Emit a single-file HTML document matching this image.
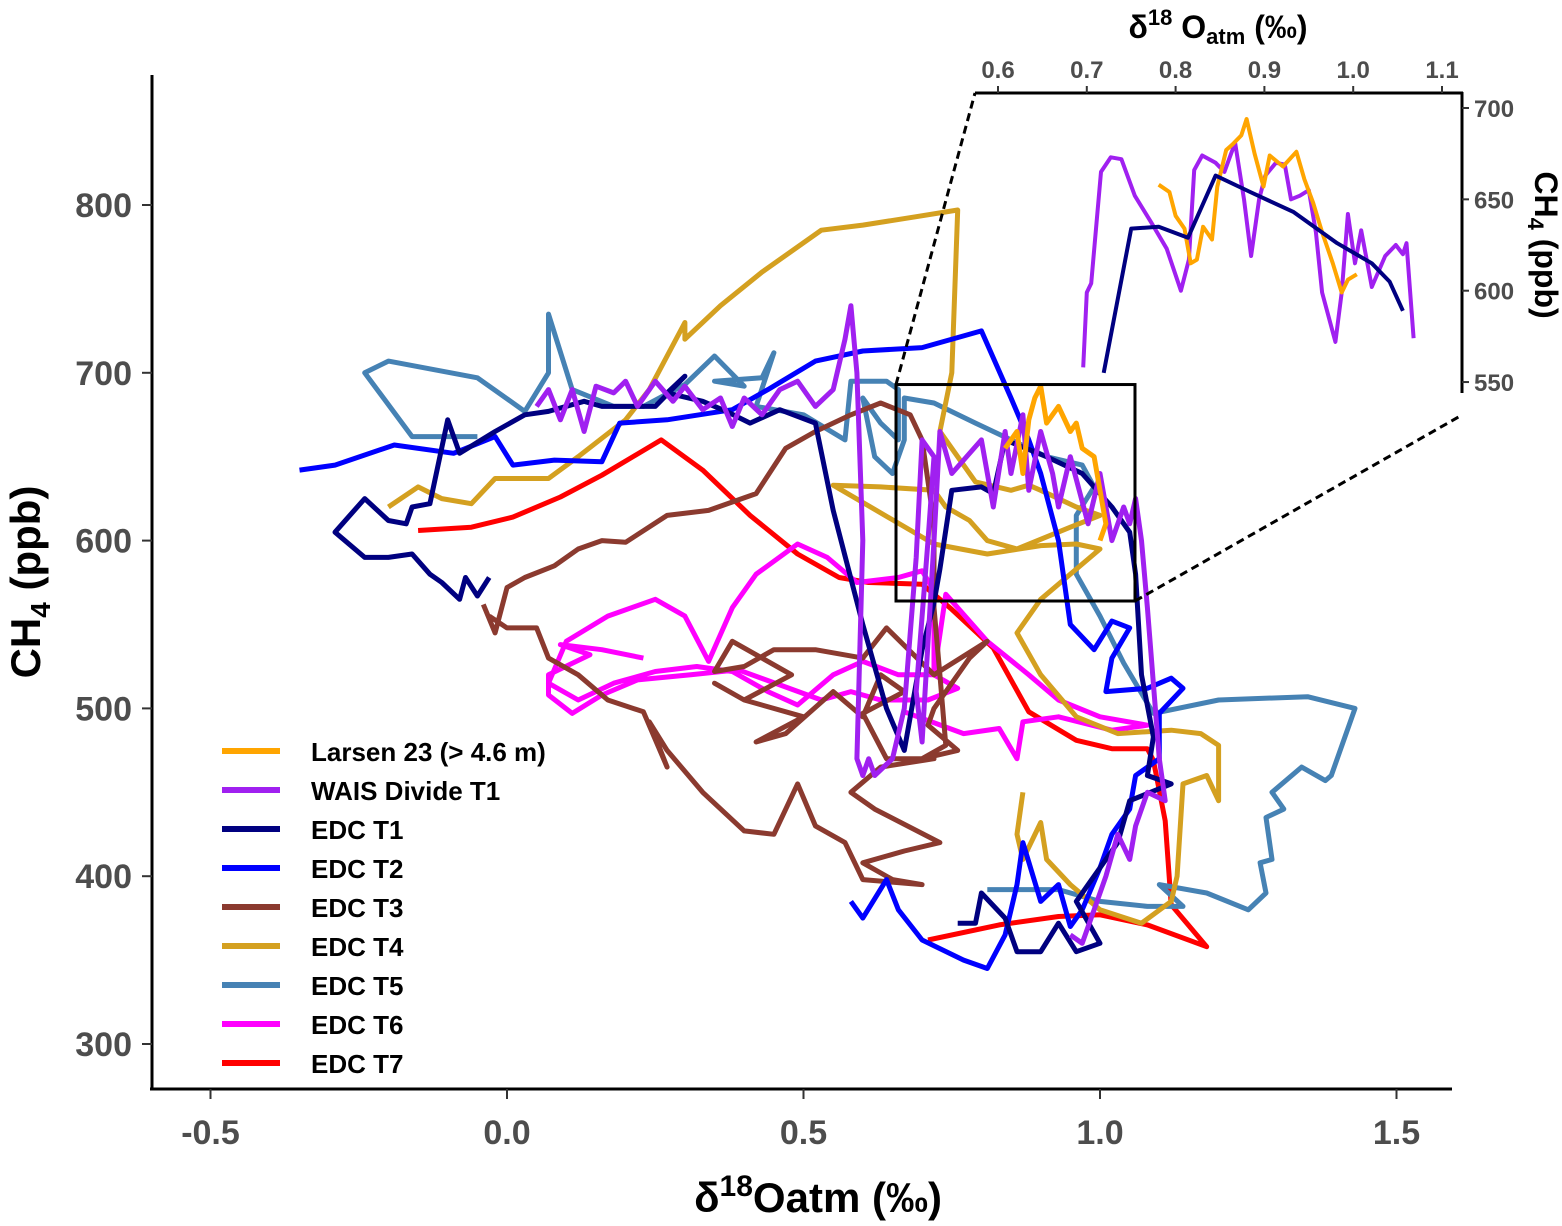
<!DOCTYPE html>
<html><head><meta charset="utf-8">
<style>
html,body{margin:0;padding:0;background:#fff;}
body{width:1562px;height:1221px;overflow:hidden;font-family:"Liberation Sans",Arial,sans-serif;}
svg text{font-family:"Liberation Sans",Arial,sans-serif;font-weight:bold;}
</style></head>
<body>
<svg id="chart" width="1562" height="1221" viewBox="0 0 1562 1221" xmlns="http://www.w3.org/2000/svg">
<g id="main-series"></g>
<g id="inset-series"></g>
<g id="axes"></g>
</svg>
<script>
// ---- Main plot data ----
const xTicks = [-0.5, 0.0, 0.5, 1.0, 1.5];
const xTickLabels = ["-0.5", "0.0", "0.5", "1.0", "1.5"];
const yTicks = [300, 400, 500, 600, 700, 800];
const yTickLabels = ["300", "400", "500", "600", "700", "800"];
const seriesNames = ["Larsen 23 (> 4.6 m)", "WAIS Divide T1", "EDC T1", "EDC T2", "EDC T3", "EDC T4", "EDC T5", "EDC T6", "EDC T7"];
const seriesColors = ["#FFA500", "#A020F0", "#000080", "#0000FF", "#8B3A2F", "#D4A020", "#4682B4", "#FF00FF", "#FF0000"];

const larsenX = [0.84,0.86,0.87,0.88,0.89,0.90,0.91,0.93,0.95,0.96,0.97,0.99,1.00,1.01,1.00];
const larsenY = [655,665,640,672,685,692,670,680,665,670,655,650,630,610,600];

const waisX = [0.05,0.07,0.09,0.11,0.13,0.15,0.18,0.20,0.22,0.25,0.28,0.30,0.33,0.36,0.38,0.40,0.43,0.46,0.49,0.52,0.55,0.57,0.58,0.59,0.60,0.59,0.60,0.61,0.62,0.65,0.67,0.69,0.70,0.72,0.71,0.69,0.70,0.72,0.73,0.75,0.80,0.82,0.84,0.85,0.87,0.88,0.90,0.92,0.93,0.95,0.98,1.00,1.02,1.04,1.05,1.06,1.07,1.08,1.10,1.11,1.08,1.06,1.05,1.03,1.01,0.99,0.97,0.95];
const waisY = [680,690,672,690,665,692,688,695,680,695,683,692,678,685,668,685,675,690,695,680,690,720,740,700,600,470,460,470,460,470,500,590,660,650,600,510,480,600,665,640,660,620,665,640,675,630,665,640,620,650,610,640,600,620,610,625,600,560,470,445,450,430,410,425,400,380,360,365];

const t1X = [-0.03,-0.05,-0.07,-0.08,-0.11,-0.13,-0.16,-0.20,-0.24,-0.29,-0.24,-0.20,-0.17,-0.16,-0.13,-0.10,-0.08,-0.02,0.03,0.07,0.13,0.16,0.25,0.30,0.27,0.33,0.37,0.41,0.46,0.52,0.55,0.60,0.64,0.67,0.70,0.72,0.73,0.75,0.80,0.82,0.84,0.91,0.97,1.02,1.05,1.06,1.07,1.09,1.08,1.12,1.05,1.03,1.00,0.96,1.00,0.96,0.93,0.90,0.86,0.84,0.80,0.79,0.76];
const t1Y = [578,567,578,565,575,580,592,590,590,605,625,612,610,620,622,672,652,665,675,677,683,680,680,698,688,683,677,670,678,670,618,550,500,475,535,563,583,630,632,628,660,650,640,620,605,580,520,483,460,455,445,420,405,385,360,355,372,355,355,375,390,372,372];

const t2X = [-0.35,-0.29,-0.19,-0.09,-0.02,0.01,0.08,0.16,0.19,0.27,0.38,0.44,0.52,0.60,0.70,0.80,0.85,0.88,0.90,0.93,0.95,0.99,1.02,1.05,1.02,1.01,1.08,1.12,1.14,1.10,1.10,1.06,1.05,1.02,1.00,0.97,0.95,0.93,0.90,0.87,0.86,0.84,0.81,0.77,0.70,0.66,0.64,0.60,0.58];
const t2Y = [642,645,657,652,662,645,648,647,670,672,678,690,707,713,715,725,685,660,640,600,550,535,552,548,530,510,512,518,512,497,470,460,440,425,405,380,370,395,385,420,395,365,345,350,362,380,398,375,385];

const t3X = [-0.04,-0.02,0.00,0.03,0.08,0.12,0.16,0.20,0.27,0.34,0.42,0.47,0.52,0.58,0.63,0.68,0.70,0.72,0.72,0.73,0.74,0.70,0.76,0.71,0.72,0.78,0.81,0.72,0.64,0.60,0.52,0.45,0.40,0.35,0.38,0.43,0.48,0.40,0.35,0.40,0.50,0.42,0.47,0.55,0.60,0.63,0.67,0.60,0.64,0.72,0.63,0.58,0.62,0.73,0.67,0.60,0.65,0.70,0.60,0.57,0.52,0.49,0.45,0.40,0.33,0.27,0.24,0.27,0.23,0.17,0.12,0.07,0.05,0.00,-0.03];
const t3Y = [562,545,572,578,585,595,600,599,615,618,628,655,665,675,682,675,660,610,560,520,478,470,475,490,500,530,540,520,548,530,535,535,525,522,540,530,520,505,515,505,495,480,485,510,495,520,510,497,470,470,465,450,440,420,415,408,398,395,398,420,430,455,425,427,450,475,492,465,498,505,520,530,548,548,555];

const t4X = [-0.20,-0.15,-0.11,-0.06,-0.02,0.07,0.12,0.20,0.24,0.30,0.30,0.36,0.43,0.53,0.60,0.69,0.76,0.75,0.73,0.79,0.85,0.88,0.90,0.93,0.96,1.00,0.95,0.86,0.81,0.78,0.74,0.72,0.63,0.55,0.72,0.81,0.90,0.96,1.00,0.90,0.86,0.90,0.96,1.03,1.12,1.17,1.20,1.20,1.18,1.14,1.13,1.12,1.07,1.00,0.95,0.91,0.90,0.87,0.86,0.87];
const t4Y = [620,632,625,622,637,637,650,672,690,730,720,740,760,785,788,793,797,700,665,635,630,633,630,625,620,615,608,595,600,612,620,630,632,633,598,592,597,598,595,565,545,520,495,485,487,485,478,445,460,455,400,385,372,380,395,410,432,410,425,450];

const t5X = [-0.05,-0.16,-0.24,-0.20,-0.05,0.03,0.07,0.07,0.11,0.18,0.23,0.30,0.35,0.40,0.35,0.43,0.45,0.42,0.50,0.57,0.58,0.64,0.66,0.66,0.63,0.60,0.62,0.65,0.67,0.67,0.72,0.79,0.85,0.91,0.97,0.99,0.96,0.96,1.00,1.04,1.09,1.20,1.35,1.43,1.39,1.38,1.34,1.29,1.31,1.28,1.29,1.27,1.28,1.25,1.18,1.10,1.14,1.08,1.00,0.93,0.87,0.81];
const t5Y = [662,662,700,707,697,677,700,735,690,680,680,693,710,692,695,697,712,680,675,660,695,695,690,660,670,685,650,640,660,685,682,670,660,650,645,632,615,580,555,527,497,505,507,500,460,457,465,450,440,435,410,408,390,380,390,395,382,382,385,392,392,392];

const t6X = [0.23,0.16,0.09,0.14,0.07,0.07,0.11,0.16,0.22,0.31,0.39,0.46,0.53,0.58,0.63,0.71,0.76,0.72,0.66,0.60,0.55,0.49,0.44,0.38,0.32,0.25,0.18,0.12,0.07,0.10,0.17,0.25,0.30,0.34,0.38,0.42,0.49,0.54,0.59,0.66,0.70,0.72,0.72,0.74,0.81,0.88,0.93,1.00,1.08,1.02,0.93,0.87,0.86,0.83,0.77,0.67];
const t6Y = [530,535,538,532,520,508,497,508,517,520,523,514,505,510,505,505,512,520,520,528,520,502,510,522,525,522,515,505,515,540,555,565,555,528,560,580,598,590,575,578,582,570,520,568,540,520,505,495,490,487,495,492,470,488,485,498];

const t7X = [-0.15,-0.06,0.01,0.09,0.16,0.26,0.33,0.41,0.49,0.56,0.61,0.70,0.75,0.82,0.88,0.96,1.02,1.08,1.09,1.11,1.12,1.18,1.08,1.00,0.93,0.83,0.71];
const t7Y = [606,608,614,626,639,660,642,615,592,578,575,574,559,536,498,481,476,476,469,433,383,358,371,377,376,371,362];

const mainX = [larsenX, waisX, t1X, t2X, t3X, t4X, t5X, t6X, t7X];
const mainY = [larsenY, waisY, t1Y, t2Y, t3Y, t4Y, t5Y, t6Y, t7Y];
const drawOrder = [8,7,6,5,4,3,2,1,0];

// ---- Inset data ----
const insetXTicks = [0.6, 0.7, 0.8, 0.9, 1.0, 1.1];
const insetXTickLabels = ["0.6", "0.7", "0.8", "0.9", "1.0", "1.1"];
const insetYTicks = [550, 600, 650, 700];
const insetYTickLabels = ["550", "600", "650", "700"];
const inWaisX = [0.696,0.70,0.705,0.716,0.727,0.739,0.754,0.773,0.79,0.806,0.815,0.821,0.83,0.845,0.855,0.867,0.877,0.885,0.894,0.901,0.913,0.923,0.93,0.94,0.95,0.958,0.965,0.98,0.987,0.994,1.002,1.009,1.021,1.036,1.048,1.056,1.06,1.068];
const inWaisY = [558,599,604,665,673,672,652,637,623,600,617,666,674,670,665,681,650,619,650,663,670,669,650,652,655,632,599,572,599,642,615,633,602,619,625,620,626,574];
const inT1X = [0.719,0.75,0.781,0.814,0.845,0.884,0.933,0.982,1.021,1.041,1.056];
const inT1Y = [555,634,635,629,663,654,643,626,615,605,589];
const inLarsenX = [0.781,0.793,0.80,0.81,0.817,0.824,0.831,0.841,0.847,0.857,0.864,0.874,0.88,0.889,0.899,0.906,0.921,0.936,0.945,0.955,0.965,0.977,0.987,0.994,1.004];
const inLarsenY = [658,654,641,634,615,617,635,628,657,677,680,685,694,675,657,674,668,676,661,648,632,615,599,606,609];

// axis functions
function sx(v){ return 507 + 593*v; }
function sy(v){ return 205 + (800 - v)*1.678; }
function ix(v){ return 998 + (v - 0.6)*888; }
function iy(v){ return 108 + (700 - v)*1.827; }

const NS = "http://www.w3.org/2000/svg";
function mk(tag, attrs, parent){
  const e = document.createElementNS(NS, tag);
  for (const k in attrs) e.setAttribute(k, attrs[k]);
  parent.appendChild(e);
  return e;
}
function pts(xs, ys, fx, fy){
  return xs.map((v,i)=> fx(v).toFixed(1)+","+fy(ys[i]).toFixed(1)).join(" ");
}

const gMain = document.getElementById("main-series");
for (const s of drawOrder){
  const pl = mk("polyline", {points: pts(mainX[s], mainY[s], sx, sy), fill:"none", stroke: seriesColors[s], "stroke-width": 5, "stroke-linejoin":"round"}, gMain);
  
  
}

const gAx = document.getElementById("axes");
// zoom rectangle
const rect = mk("rect", {x: sx(0.656), y: sy(693), width: sx(1.059)-sx(0.656), height: sy(564)-sy(693), fill:"none", stroke:"#000", "stroke-width":3}, gAx);


const d1 = mk("line", {x1: sx(0.656), y1: sy(693), x2: 975, y2: 93, stroke:"#000", "stroke-width":3, "stroke-dasharray":"8,5"}, gAx);


const d2 = mk("line", {x1: sx(1.059), y1: sy(564), x2: 1462, y2: 415, stroke:"#000", "stroke-width":3, "stroke-dasharray":"8,5"}, gAx);



// main axes
const yl = mk("line", {x1:152, y1:75, x2:152, y2:1090, stroke:"#000", "stroke-width":3}, gAx);


const xl = mk("line", {x1:150, y1:1089, x2:1452, y2:1089, stroke:"#000", "stroke-width":3}, gAx);


yTicks.forEach((v,i)=>{
  const t = mk("line", {x1:142, y1:sy(v), x2:152, y2:sy(v), stroke:"#333", "stroke-width":2}, gAx);
  
  
  const lb = mk("text", {x:132, y:sy(v)+12, "text-anchor":"end", "font-size":34, fill:"#4d4d4d"}, gAx);
  lb.textContent = yTickLabels[i];
  
  
});
xTicks.forEach((v,i)=>{
  const t = mk("line", {x1:sx(v), y1:1089, x2:sx(v), y2:1099, stroke:"#333", "stroke-width":2}, gAx);
  
  
  const lb = mk("text", {x:sx(v), y:1144, "text-anchor":"middle", "font-size":34, fill:"#4d4d4d"}, gAx);
  lb.textContent = xTickLabels[i];
  
  
});
const yt = mk("text", {transform:"translate(40,582) rotate(-90)", "text-anchor":"middle", "font-size":42, fill:"#000"}, gAx);
yt.innerHTML = 'CH<tspan font-size="28" dy="10">4</tspan><tspan dy="-10"> (ppb)</tspan>';


const xt = mk("text", {x:818, y:1212, "text-anchor":"middle", "font-size":42, fill:"#000"}, gAx);
xt.innerHTML = 'δ<tspan font-size="30" dy="-16">18</tspan><tspan dy="16">O</tspan><tspan>atm (‰)</tspan>';



// legend
seriesNames.forEach((n,i)=>{
  const y = 751 + 39*i;
  const ll = mk("line", {x1:222, y1:y, x2:280, y2:y, stroke:seriesColors[i], "stroke-width":6}, gAx);
  
  
  const lt = mk("text", {x:311, y:y+10, "font-size":26, fill:"#000"}, gAx);
  lt.textContent = n;
  
  
});

// inset
const gIn = document.getElementById("inset-series");
const inX = [inWaisX, inLarsenX, inT1X];
const inY = [inWaisY, inLarsenY, inT1Y];
const inC = [seriesColors[1], seriesColors[0], seriesColors[2]];
const inN = ["inset-wais-line", "inset-larsen-line", "inset-edc-t1-line"];
inX.forEach((xs,k)=>{
  const pl = mk("polyline", {points: pts(xs, inY[k], ix, iy), fill:"none", stroke: inC[k], "stroke-width":4, "stroke-linejoin":"round"}, gIn);
  
  
});
const ixl = mk("line", {x1:975, y1:93, x2:1463, y2:93, stroke:"#000", "stroke-width":3}, gAx);


const iyl = mk("line", {x1:1462, y1:92, x2:1462, y2:393, stroke:"#000", "stroke-width":3}, gAx);


insetXTicks.forEach((v,i)=>{
  const t = mk("line", {x1:ix(v), y1:86, x2:ix(v), y2:93, stroke:"#333", "stroke-width":2}, gAx);
  
  
  const lb = mk("text", {x:ix(v), y:78, "text-anchor":"middle", "font-size":24, fill:"#4d4d4d"}, gAx);
  lb.textContent = insetXTickLabels[i];
  
  
});
insetYTicks.forEach((v,i)=>{
  const t = mk("line", {x1:1462, y1:iy(v), x2:1469, y2:iy(v), stroke:"#333", "stroke-width":2}, gAx);
  
  
  const lb = mk("text", {x:1474, y:iy(v)+9, "text-anchor":"start", "font-size":24, fill:"#4d4d4d"}, gAx);
  lb.textContent = insetYTickLabels[i];
  
  
});
const ixt = mk("text", {x:1218, y:38, "text-anchor":"middle", "font-size":32, fill:"#000"}, gAx);
ixt.innerHTML = 'δ<tspan font-size="22" dy="-13">18</tspan><tspan dy="13"> O</tspan><tspan font-size="22" dy="6">atm</tspan><tspan dy="-6"> (‰)</tspan>';


const iyt = mk("text", {transform:"translate(1535,245) rotate(90)", "text-anchor":"middle", "font-size":32, fill:"#000"}, gAx);
iyt.innerHTML = 'CH<tspan font-size="22" dy="7">4</tspan><tspan dy="-7"> (ppb)</tspan>';


</script>
</body></html>
